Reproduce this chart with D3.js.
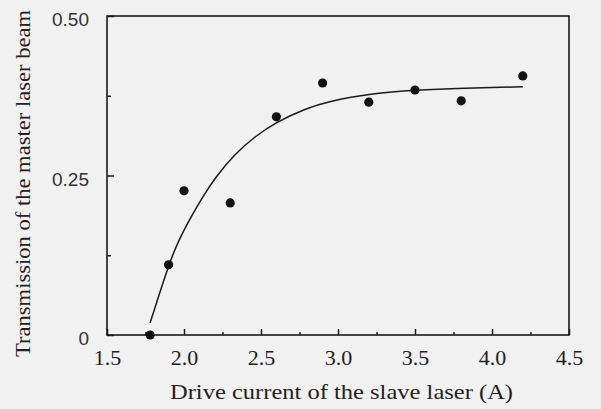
<!DOCTYPE html>
<html>
<head>
<meta charset="utf-8">
<script src="https://cdn.jsdelivr.net/npm/d3@7"></script>
<style>
  body { margin: 0; background: #f1f1f1; }
  svg { display: block; }
</style>
</head>
<body>
<svg id="chart" width="601" height="409"></svg>
<script>
// measured points
var driveCurrent = [1.78, 1.90, 2.00, 2.30, 2.60, 2.90, 3.20, 3.50, 3.80, 4.20];
var transmission = [0.000, 0.110, 0.226, 0.207, 0.342, 0.395, 0.365, 0.384, 0.367, 0.406];
// fitted curve
var fitX = [1.78, 1.90, 1.96, 2.05, 2.12, 2.20, 2.33, 2.46, 2.60, 2.79, 2.95, 3.21, 3.50, 3.81, 4.20];
var fitY = [0.019, 0.110, 0.146, 0.187, 0.216, 0.246, 0.284, 0.311, 0.334, 0.355, 0.367, 0.378, 0.384, 0.387, 0.389];
var xTicks = [1.5, 2.0, 2.5, 3.0, 3.5, 4.0, 4.5];
var xMinor = [1.75, 2.25, 2.75, 3.25, 3.75, 4.25];
var yTicks = [0, 0.25, 0.5];
var yMinor = [0.125, 0.375];
var yTickLabels = ['0', '0.25', '0.50'];

var svg = d3.select('#chart');
var gLayout = {left: 107, top: 16, right: 569, bottom: 335};
var ink = '#1a1a1a';

var x = d3.scaleLinear().domain([1.5, 4.5]).range([gLayout.left, gLayout.right]);
var y = d3.scaleLinear().domain([0, 0.5]).range([gLayout.bottom, gLayout.top]);

// frame
svg.append('rect').attr('x', gLayout.left).attr('y', gLayout.top)
  .attr('width', gLayout.right - gLayout.left).attr('height', gLayout.bottom - gLayout.top)
  .attr('fill', 'none').attr('stroke', ink).attr('stroke-width', 1.6);

// x axis, ticks inward
var xAxis = svg.append('g').attr('transform', 'translate(0,' + gLayout.bottom + ')');
xAxis.call(d3.axisBottom(x).tickValues(xTicks).tickSize(-6).tickFormat(d3.format('.1f')).tickPadding(14));
xAxis.append('g').call(d3.axisBottom(x).tickValues(xMinor).tickSize(-3).tickFormat(''));
xAxis.selectAll('.domain').remove();
xAxis.selectAll('line').attr('stroke', ink).attr('stroke-width', 1.5);
xAxis.selectAll('text').attr('fill', '#222').style('font-family', '"Liberation Serif", serif').style('font-size', '22px');

// y axis, ticks inward
var yAxis = svg.append('g').attr('transform', 'translate(' + gLayout.left + ',0)');
yAxis.call(d3.axisLeft(y).tickValues(yTicks).tickSize(-7).tickFormat(function(d, i) { return yTickLabels[i]; }).tickPadding(18));
yAxis.append('g').call(d3.axisLeft(y).tickValues(yMinor).tickSize(-4).tickFormat(''));
yAxis.selectAll('.domain').remove();
yAxis.selectAll('line').attr('stroke', ink).attr('stroke-width', 1.5);
yAxis.selectAll('text').attr('fill', '#333').attr('dy', '0.5em').style('font-family', '"Liberation Sans", Arial, sans-serif').style('font-size', '19px');

// fit line
var line = d3.line().x(function(d) { return x(d[0]); }).y(function(d) { return y(d[1]); }).curve(d3.curveBasis);
svg.append('path').datum(d3.zip(fitX, fitY)).attr('d', line)
  .attr('fill', 'none').attr('stroke', ink).attr('stroke-width', 1.5);

// points
svg.append('g').selectAll('circle').data(d3.zip(driveCurrent, transmission)).enter().append('circle')
  .attr('cx', function(d) { return x(d[0]); }).attr('cy', function(d) { return y(d[1]); })
  .attr('r', 4.6).attr('fill', '#111');

// axis titles
svg.append('text').attr('x', 170).attr('y', 399)
  .attr('textLength', 343).attr('lengthAdjust', 'spacingAndGlyphs')
  .style('font-family', '"Liberation Serif", serif').style('font-size', '21px').attr('fill', '#222')
  .text('Drive current of the slave laser (A)');
svg.append('g').attr('transform', 'translate(30, 357)')
  .append('text').attr('transform', 'rotate(-90)')
  .attr('textLength', 347).attr('lengthAdjust', 'spacingAndGlyphs')
  .style('font-family', '"Liberation Serif", serif').style('font-size', '21px').attr('fill', '#222')
  .text('Transmission of the master laser beam');
</script>
</body>
</html>
